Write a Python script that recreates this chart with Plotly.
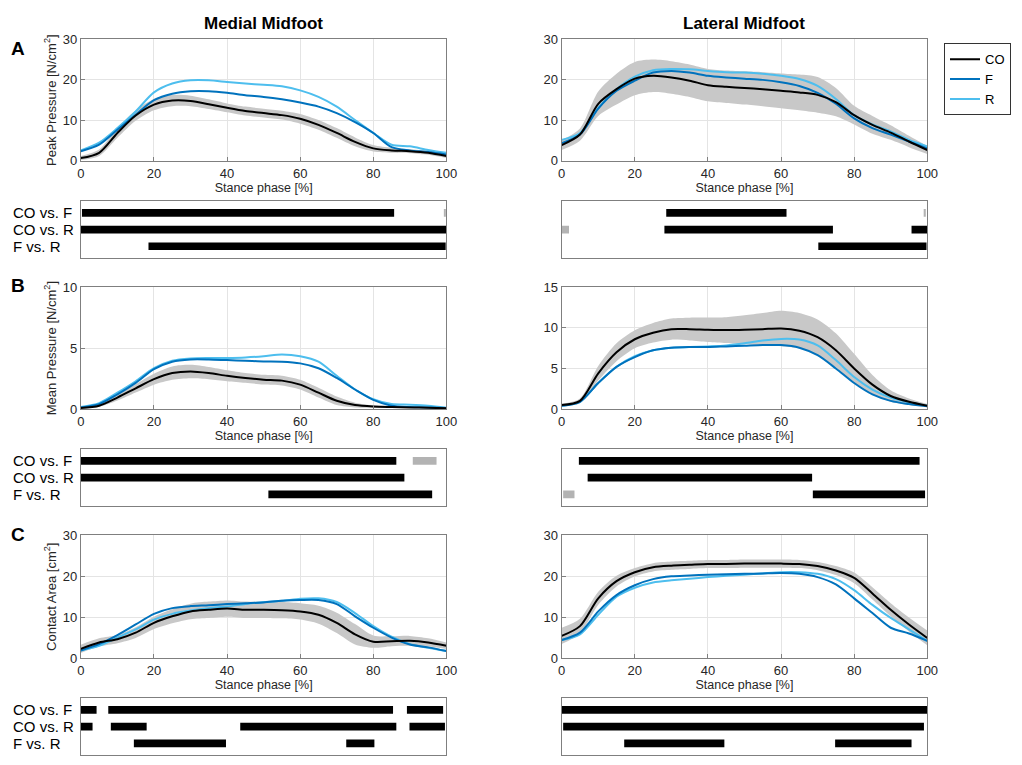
import plotly.graph_objects as go

# ---------------- data ----------------
STANCE = [0, 5, 10, 15, 20, 25, 30, 35, 40, 45, 50, 55, 60, 65, 70, 75, 80, 85, 90, 95, 100]
X_TICKS = [0, 20, 40, 60, 80, 100]
GROUPS = ["CO", "F", "R"]
COMPARISONS = ["CO vs. F", "CO vs. R", "F vs. R"]
REGIONS = ["Medial Midfoot", "Lateral Midfoot"]
PANEL_LETTERS = ["A", "B", "C"]
Y_TITLES = ["Peak Pressure [N/cm<sup>2</sup>]", "Mean Pressure [N/cm<sup>2</sup>]", "Contact Area [cm<sup>2</sup>]"]

# A - peak pressure
PP_MED_CO = [0.7, 2.0, 6.9, 11.2, 13.9, 14.9, 14.8, 14.0, 13.1, 12.3, 11.8, 11.3, 10.4, 8.9, 6.9, 4.7, 3.1, 2.6, 2.4, 2.0, 1.2]
PP_MED_SD = [0.5, 0.8, 1.2, 1.3, 1.4, 1.4, 1.3, 1.2, 1.1, 1.1, 1.1, 1.1, 1.2, 1.2, 1.2, 1.1, 0.8, 0.6, 0.5, 0.5, 0.5]
PP_MED_F = [2.4, 4.0, 7.7, 11.4, 15.0, 16.6, 17.2, 17.2, 16.8, 16.2, 15.8, 15.2, 14.4, 13.4, 11.8, 9.6, 6.9, 3.4, 2.6, 2.2, 1.6]
PP_MED_R = [2.6, 4.5, 8.1, 12.2, 16.9, 19.1, 19.9, 19.9, 19.5, 19.1, 18.8, 18.4, 17.4, 15.8, 13.4, 10.1, 6.9, 4.0, 3.6, 2.7, 2.0]

PP_LAT_CO = [3.9, 6.5, 14.1, 17.7, 20.3, 21.0, 20.6, 19.8, 18.7, 18.3, 18.0, 17.7, 17.3, 16.9, 16.3, 14.5, 11.3, 8.9, 7.0, 4.8, 2.7]
PP_LAT_SD = [1.2, 1.5, 3.0, 3.8, 4.1, 4.0, 4.0, 4.0, 4.0, 4.0, 4.1, 4.2, 4.3, 4.4, 4.4, 3.5, 2.3, 2.2, 1.8, 1.4, 1.0]
PP_LAT_F = [4.4, 6.5, 12.9, 17.3, 19.8, 21.8, 22.2, 21.8, 21.0, 20.6, 20.3, 20.0, 19.4, 18.5, 16.8, 14.1, 10.5, 8.1, 6.5, 4.8, 3.1]
PP_LAT_R = [5.2, 6.9, 13.1, 17.7, 20.8, 22.4, 22.7, 22.6, 22.2, 21.9, 21.8, 21.5, 21.0, 20.2, 18.5, 15.3, 11.3, 9.0, 7.3, 5.2, 3.6]

# B - mean pressure
MP_MED_CO = [0.08, 0.27, 0.94, 1.7, 2.45, 2.95, 3.08, 2.95, 2.73, 2.55, 2.41, 2.33, 2.0, 1.34, 0.67, 0.32, 0.2, 0.16, 0.13, 0.1, 0.05]
MP_MED_SD = [0.05, 0.1, 0.25, 0.35, 0.45, 0.55, 0.55, 0.5, 0.45, 0.4, 0.4, 0.4, 0.4, 0.4, 0.35, 0.2, 0.1, 0.08, 0.06, 0.05, 0.04]
MP_MED_F = [0.13, 0.4, 1.2, 2.14, 3.27, 3.89, 4.07, 4.07, 4.02, 3.97, 3.91, 3.89, 3.75, 3.35, 2.55, 1.6, 0.75, 0.27, 0.16, 0.13, 0.08]
MP_MED_R = [0.16, 0.48, 1.34, 2.28, 3.35, 3.97, 4.16, 4.2, 4.2, 4.24, 4.34, 4.48, 4.34, 3.89, 2.73, 1.6, 0.8, 0.4, 0.35, 0.27, 0.1]

MP_LAT_CO = [0.48, 1.0, 4.4, 7.0, 8.6, 9.4, 9.85, 9.85, 9.77, 9.73, 9.77, 9.85, 9.93, 9.65, 8.85, 7.24, 5.0, 3.0, 1.6, 0.88, 0.4]
MP_LAT_SD = [0.15, 0.3, 0.9, 1.1, 1.1, 1.2, 1.3, 1.4, 1.5, 1.6, 1.8, 2.0, 2.2, 2.2, 2.2, 2.1, 1.8, 1.2, 0.7, 0.4, 0.2]
MP_LAT_F = [0.4, 0.88, 3.2, 5.2, 6.4, 7.24, 7.56, 7.64, 7.64, 7.72, 7.8, 7.88, 7.88, 7.56, 6.63, 5.0, 3.2, 1.8, 1.0, 0.6, 0.32]
MP_LAT_R = [0.4, 0.88, 3.2, 5.2, 6.5, 7.24, 7.56, 7.64, 7.72, 7.84, 8.1, 8.44, 8.64, 8.56, 7.84, 6.03, 3.94, 2.4, 1.4, 0.8, 0.4]

# C - contact area
CA_MED_CO = [2.24, 3.8, 4.6, 6.2, 8.6, 10.2, 11.4, 11.8, 12.1, 11.8, 11.8, 11.7, 11.4, 10.6, 8.6, 5.8, 4.0, 4.1, 4.2, 3.8, 3.0]
CA_MED_SD = [1.0, 1.0, 1.0, 1.3, 1.5, 1.7, 1.9, 2.0, 2.0, 2.0, 2.0, 2.0, 2.0, 2.2, 2.5, 2.5, 1.5, 1.2, 1.2, 1.0, 0.8]
CA_MED_F = [1.84, 3.4, 5.6, 8.2, 10.8, 12.2, 12.7, 12.9, 13.2, 13.4, 13.6, 14.0, 14.2, 14.2, 13.2, 10.2, 7.4, 5.0, 3.3, 2.6, 1.7]
CA_MED_R = [1.84, 3.0, 5.0, 7.0, 9.4, 10.8, 11.6, 12.2, 12.6, 13.2, 13.7, 14.0, 14.5, 14.6, 13.7, 11.0, 7.8, 5.2, 3.4, 2.5, 1.7]

CA_LAT_CO = [5.4, 7.8, 14.6, 18.8, 21.0, 22.2, 22.6, 22.8, 23.0, 23.0, 23.1, 23.1, 23.1, 23.0, 22.5, 21.4, 19.6, 15.8, 11.8, 8.2, 4.9]
CA_LAT_SD = [2.0, 1.8, 1.6, 1.3, 1.0, 1.0, 1.0, 1.0, 1.0, 1.0, 1.0, 1.0, 1.0, 1.0, 1.0, 1.1, 1.3, 1.5, 1.6, 1.7, 1.8]
CA_LAT_F = [4.4, 6.2, 11.4, 15.4, 17.8, 19.3, 20.0, 20.2, 20.4, 20.5, 20.6, 20.7, 20.8, 20.6, 19.8, 18.0, 14.6, 11.0, 7.4, 6.0, 4.2]
CA_LAT_R = [4.4, 5.8, 10.6, 15.0, 17.2, 18.5, 19.0, 19.4, 19.8, 20.1, 20.4, 20.7, 21.0, 21.0, 20.6, 19.3, 16.6, 13.0, 9.8, 7.0, 4.2]

Y_TICKS_PP = [0, 10, 20, 30]
Y_TICKS_MP_MED = [0, 5, 10]
Y_TICKS_MP_LAT = [0, 5, 10, 15]
Y_TICKS_CA = [0, 10, 20, 30]

# significance segments: (comparison, start %, end %, kind) kind: "s" significant, "t" trend
SIG_PP_MED = [("CO vs. F", 0.3, 85.7, "s"), ("CO vs. F", 99.4, 99.8, "t"),
              ("CO vs. R", 0.0, 100.0, "s"), ("F vs. R", 18.5, 99.8, "s")]
SIG_PP_LAT = [("CO vs. F", 28.6, 61.5, "s"), ("CO vs. F", 99.2, 99.6, "t"),
              ("CO vs. R", 0.0, 2.0, "t"), ("CO vs. R", 28.1, 74.2, "s"), ("CO vs. R", 95.7, 100.0, "s"),
              ("F vs. R", 70.2, 99.8, "s")]
SIG_MP_MED = [("CO vs. F", 0.0, 86.3, "s"), ("CO vs. F", 90.8, 97.3, "t"),
              ("CO vs. R", 0.0, 88.5, "s"), ("F vs. R", 51.3, 96.1, "s")]
SIG_MP_LAT = [("CO vs. F", 4.7, 97.9, "s"), ("CO vs. R", 7.1, 68.5, "s"),
              ("F vs. R", 0.4, 3.5, "t"), ("F vs. R", 68.7, 99.4, "s")]
SIG_CA_MED = [("CO vs. F", 0.0, 4.3, "s"), ("CO vs. F", 7.5, 85.4, "s"), ("CO vs. F", 89.2, 99.1, "s"),
              ("CO vs. R", 0.0, 3.2, "s"), ("CO vs. R", 8.2, 18.0, "s"), ("CO vs. R", 43.6, 86.3, "s"),
              ("CO vs. R", 89.9, 99.6, "s"),
              ("F vs. R", 14.5, 39.7, "s"), ("F vs. R", 72.6, 80.3, "s")]
SIG_CA_LAT = [("CO vs. F", 0.0, 100.0, "s"), ("CO vs. R", 0.4, 99.1, "s"),
              ("F vs. R", 17.1, 44.5, "s"), ("F vs. R", 74.8, 95.7, "s")]

# ---------------- styling ----------------
FONT = "Liberation Sans, Arial, Helvetica, sans-serif"
COLORS = {"CO": "#000000", "F": "#0072BD", "R": "#4DBEEE"}
SIG_COLORS = {"s": "#000000", "t": "#b3b3b3"}
BAND = "#c8c8c8"
AX = "#7f7f7f"
TXT = "#262626"
W, H = 1022, 765

COLS = [(78, 449), (566, 937)]
PLOT_ROWS = [(33, 157), (286, 410), (539, 664)]
SIG_ROWS = [(198, 256), (451, 509), (705, 763)]

panels = [
    (0, 0, PP_MED_CO, PP_MED_SD, PP_MED_F, PP_MED_R, [0, 30], Y_TICKS_PP, SIG_PP_MED),
    (0, 1, PP_LAT_CO, PP_LAT_SD, PP_LAT_F, PP_LAT_R, [0, 30], Y_TICKS_PP, SIG_PP_LAT),
    (1, 0, MP_MED_CO, MP_MED_SD, MP_MED_F, MP_MED_R, [0, 10], Y_TICKS_MP_MED, SIG_MP_MED),
    (1, 1, MP_LAT_CO, MP_LAT_SD, MP_LAT_F, MP_LAT_R, [0, 15], Y_TICKS_MP_LAT, SIG_MP_LAT),
    (2, 0, CA_MED_CO, CA_MED_SD, CA_MED_F, CA_MED_R, [0, 30], Y_TICKS_CA, SIG_CA_MED),
    (2, 1, CA_LAT_CO, CA_LAT_SD, CA_LAT_F, CA_LAT_R, [0, 30], Y_TICKS_CA, SIG_CA_LAT),
]

ROW_POS = {"CO vs. F": 3, "CO vs. R": 2, "F vs. R": 1}

fig = go.Figure()
layout = {}
annotations = []


def pdom_x(c):
    return [COLS[c][0] / W, COLS[c][1] / W]


def pdom_y(top, bot):
    return [1 - bot / H, 1 - top / H]


for i, (row, col, co, sd, f, r, yr, yt, sig) in enumerate(panels):
    n = i + 1
    m = i + 7
    xa, ya = f"x{n}", f"y{n}"
    xs, ys = f"x{m}", f"y{m}"
    upper = [a + b for a, b in zip(co, sd)]
    lower = [a - b for a, b in zip(co, sd)]
    fig.add_trace(go.Scatter(x=STANCE, y=lower, mode="lines", line=dict(width=0, shape="spline", smoothing=0.8),
                             showlegend=False, hoverinfo="skip", xaxis=xa, yaxis=ya))
    fig.add_trace(go.Scatter(x=STANCE, y=upper, mode="lines", line=dict(width=0, shape="spline", smoothing=0.8),
                             fill="tonexty", fillcolor=BAND, showlegend=False, hoverinfo="skip",
                             xaxis=xa, yaxis=ya))
    for g, vals in (("R", r), ("F", f), ("CO", co)):
        fig.add_trace(go.Scatter(x=STANCE, y=vals, mode="lines", name=g,
                                 line=dict(color=COLORS[g], width=2, shape="spline", smoothing=0.8),
                                 showlegend=False, xaxis=xa, yaxis=ya))
    for comp, s, e, kind in sig:
        fig.add_trace(go.Bar(y=[ROW_POS[comp]], x=[e - s], base=[s], orientation="h", width=0.46,
                             marker=dict(color=SIG_COLORS[kind], line=dict(width=0)),
                             showlegend=False, hoverinfo="skip", xaxis=xs, yaxis=ys))

    common_x = dict(range=[0, 100], showline=True, mirror=True, linecolor=AX, linewidth=1, zeroline=False)
    layout[f"xaxis{n}"] = dict(domain=pdom_x(col), anchor=ya, tickvals=X_TICKS, ticks="inside", ticklen=4,
                               tickcolor=AX, showgrid=True, gridcolor="#e4e4e4",
                               tickfont=dict(size=13, color=TXT, family=FONT),
                               title=dict(text="Stance phase [%]", standoff=2,
                                          font=dict(size=12.5, color=TXT, family=FONT)),
                               **common_x)
    yax = dict(domain=pdom_y(*PLOT_ROWS[row]), anchor=xa, range=yr, tickvals=yt, ticks="inside", ticklen=4,
               tickcolor=AX, showgrid=True, gridcolor="#e4e4e4", showline=True, mirror=True,
               linecolor=AX, linewidth=1, zeroline=False,
               tickfont=dict(size=13, color=TXT, family=FONT))
    if col == 0:
        yax["title"] = dict(text=Y_TITLES[row], standoff=3, font=dict(size=13, color=TXT, family=FONT))
    layout[f"yaxis{n}"] = yax
    layout[f"xaxis{m}"] = dict(domain=pdom_x(col), anchor=ys, showticklabels=False, ticks="", showgrid=False,
                               **common_x)
    layout[f"yaxis{m}"] = dict(domain=pdom_y(*SIG_ROWS[row]), anchor=xs, range=[0.3, 3.7],
                               showticklabels=False, ticks="", showgrid=False, showline=True, mirror=True,
                               linecolor=AX, linewidth=1, zeroline=False)
    if col == 0:
        for comp in COMPARISONS:
            annotations.append(dict(text=comp, x=7 / W, xref="paper", xanchor="left", y=ROW_POS[comp],
                                    yref=ys, yanchor="middle", showarrow=False,
                                    font=dict(size=15, color="#000000", family=FONT)))

# legend entries
for g in GROUPS:
    fig.add_trace(go.Scatter(x=[None], y=[None], mode="lines", name=g,
                             line=dict(color=COLORS[g], width=2), showlegend=True, xaxis="x1", yaxis="y1"))

for c, title in enumerate(REGIONS):
    annotations.append(dict(text=f"<b>{title}</b>", x=(COLS[c][0] + COLS[c][1]) / 2 / W, xref="paper",
                            y=1 - 17 / H, yref="paper", xanchor="center", yanchor="middle", showarrow=False,
                            font=dict(size=17, color="#000000", family=FONT)))
for k, letter in enumerate(PANEL_LETTERS):
    annotations.append(dict(text=f"<b>{letter}</b>", x=5 / W, xref="paper", y=1 - [42, 284, 538][k] / H,
                            yref="paper", xanchor="left", yanchor="middle", showarrow=False,
                            font=dict(size=19, color="#000000", family=FONT)))

fig.update_layout(
    width=W, height=H, margin=dict(l=0, r=0, t=0, b=0),
    paper_bgcolor="white", plot_bgcolor="white", barmode="overlay",
    font=dict(family=FONT, color=TXT),
    showlegend=True,
    legend=dict(x=1.0, xanchor="right", y=1 - 37 / H, yanchor="top", bordercolor="#333333",
                borderwidth=1, bgcolor="white", font=dict(size=13, color="#000000", family=FONT),
                itemwidth=30, tracegroupgap=0, traceorder="normal"),
    annotations=annotations,
    **layout,
)

fig.write_html("out.html")
